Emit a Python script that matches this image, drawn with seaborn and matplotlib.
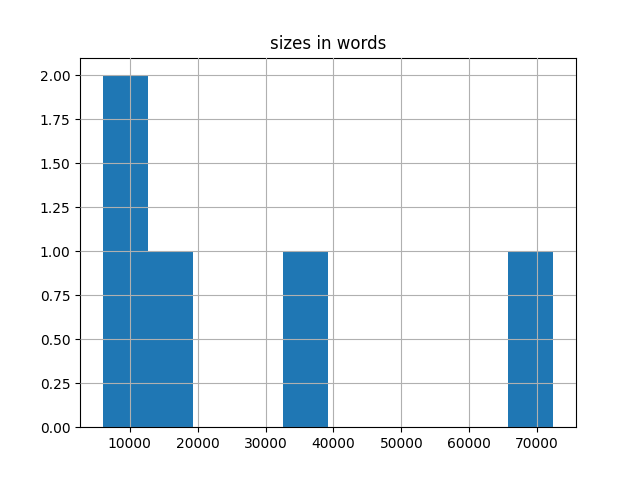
import matplotlib
matplotlib.use("Agg")
import matplotlib.pyplot as plt
import pandas as pd
import seaborn as sns

# word counts per document
names = ["doc_a", "doc_b", "doc_c", "doc_d", "doc_e"]
sizes = [6000, 10500, 15500, 36000, 72400]

df = pd.DataFrame({"name": names, "size": sizes})

fig, ax = plt.subplots(figsize=(6.4, 4.8), dpi=100)
sns.histplot(data=df, x="size", bins=10, ax=ax, color="#1f77b4",
             alpha=1, linewidth=0, edgecolor="none")
ax.grid(True)
ax.set_axisbelow(False)
ax.set_xlabel("")
ax.set_ylabel("")
ax.set_yticks([0, 0.25, 0.5, 0.75, 1.0, 1.25, 1.5, 1.75, 2.0])
ax.set_yticklabels(["0.00", "0.25", "0.50", "0.75", "1.00", "1.25", "1.50", "1.75", "2.00"])
ax.set_title("sizes in words")
fig.savefig("out.png")
